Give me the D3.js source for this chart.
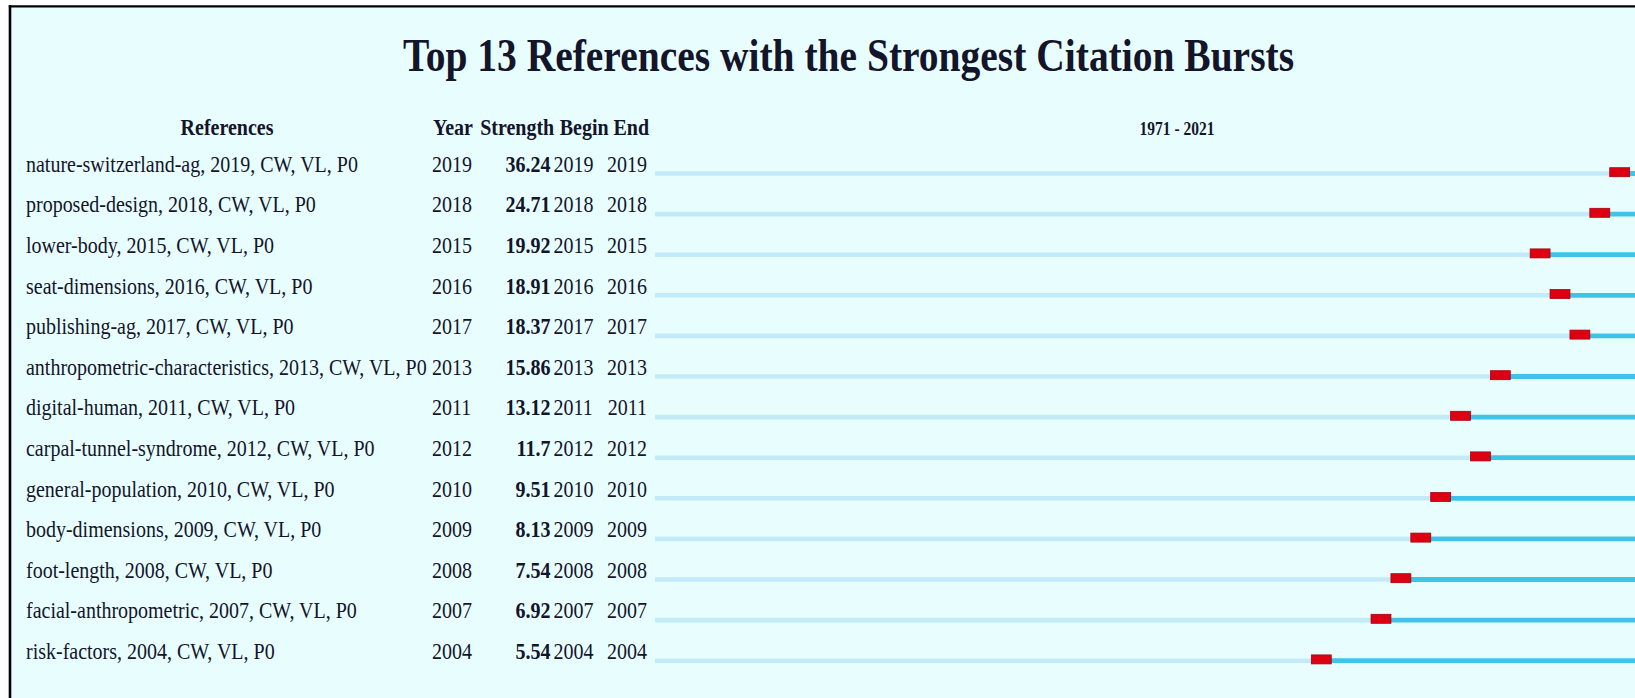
<!DOCTYPE html>
<html>
<head>
<meta charset="utf-8">
<script src="https://cdn.jsdelivr.net/npm/d3@7"></script>
<style>
    body { margin: 0; background: #ffffff; overflow: hidden; }
    svg { display: block; }
</style>
</head>
<body>
<svg id="burst"></svg>
<script>
// data
var references = [
    "nature-switzerland-ag, 2019, CW, VL, P0",
    "proposed-design, 2018, CW, VL, P0",
    "lower-body, 2015, CW, VL, P0",
    "seat-dimensions, 2016, CW, VL, P0",
    "publishing-ag, 2017, CW, VL, P0",
    "anthropometric-characteristics, 2013, CW, VL, P0",
    "digital-human, 2011, CW, VL, P0",
    "carpal-tunnel-syndrome, 2012, CW, VL, P0",
    "general-population, 2010, CW, VL, P0",
    "body-dimensions, 2009, CW, VL, P0",
    "foot-length, 2008, CW, VL, P0",
    "facial-anthropometric, 2007, CW, VL, P0",
    "risk-factors, 2004, CW, VL, P0"
];
var years     = [2019, 2018, 2015, 2016, 2017, 2013, 2011, 2012, 2010, 2009, 2008, 2007, 2004];
var strengths = ["36.24", "24.71", "19.92", "18.91", "18.37", "15.86", "13.12", "11.7", "9.51", "8.13", "7.54", "6.92", "5.54"];
var begins    = [2019, 2018, 2015, 2016, 2017, 2013, 2011, 2012, 2010, 2009, 2008, 2007, 2004];
var ends      = [2019, 2018, 2015, 2016, 2017, 2013, 2011, 2012, 2010, 2009, 2008, 2007, 2004];
var headers   = ["Year", "Strength", "Begin", "End"];
var firstYear = 1971, lastYear = 2021;
var chartTitle = "Top 13 References with the Strongest Citation Bursts";

var width = 1635, height = 698;
var font = "'Liberation Serif', 'Times New Roman', serif";
var textColor = "#14142a";
var stretch = 1.16;   // the screenshot text is a bit taller than wide

var svg = d3.select("#burst")
    .attr("width", width)
    .attr("height", height);

// panel, open to the right and bottom (only top + left edges show)
svg.append("rect")
    .attr("x", 10)
    .attr("y", 6.3)
    .attr("width", width - 10)
    .attr("height", height - 6.3)
    .style("fill", "#e8fefe");
svg.append("line")
    .attr("x1", 8.8).attr("x2", width)
    .attr("y1", 6.3).attr("y2", 6.3)
    .style("stroke", "#000").style("stroke-width", 2.2);
svg.append("line")
    .attr("x1", 10).attr("x2", 10)
    .attr("y1", 5.2).attr("y2", height)
    .style("stroke", "#000").style("stroke-width", 2.6);

function label(g, x, y, txt, size, bold, anchor) {
    return g.append("text")
        .attr("transform", "translate(" + x + "," + y + ") scale(1," + stretch + ")")
        .style("font-family", font)
        .style("font-size", size + "px")
        .style("font-weight", bold ? "bold" : "normal")
        .style("text-anchor", anchor || "start")
        .style("fill", textColor)
        .text(txt);
}

// scales
var x = d3.scaleLinear()
    .domain([firstYear, lastYear + 1])
    .range([655, 1669.4]);

var rows = d3.range(references.length);
var y = d3.scalePoint()
    .domain(rows)
    .range([171.7, 171.7 + 40.6 * (references.length - 1)]);

// title + header
label(svg, 848.5, 71, chartTitle, 39.5, true, "middle");
label(svg, 227, 135, "References", 20, true, "middle");
var headerX = [433, 480.2, 559.7, 613.5];
headers.forEach(function (h, i) {
    label(svg, headerX[i], 135, h, 20, true);
});
label(svg, 1177, 135, firstYear + " - " + lastYear, 15.5, true, "middle");

// table rows
var tbl = svg.append("g");
rows.forEach(function (i) {
    var yy = y(i);
    label(tbl, 26, yy, references[i], 20, false);
    label(tbl, 432, yy, years[i], 20, false);
    label(tbl, 550.5, yy, strengths[i], 20, true, "end");
    label(tbl, 553.5, yy, begins[i], 20, false);
    label(tbl, 647, yy, ends[i], 20, false, "end");
});

// timeline bars
var bars = svg.append("g");
rows.forEach(function (i) {
    var yy = y(i);
    // before publication
    bars.append("line")
        .attr("x1", x(firstYear)).attr("x2", x(years[i]))
        .attr("y1", yy + 1.8).attr("y2", yy + 1.8)
        .style("stroke", "#c3eaf9")
        .style("stroke-width", 4.6);
    // after publication
    bars.append("line")
        .attr("x1", x(years[i])).attr("x2", x(lastYear + 1))
        .attr("y1", yy + 1.8).attr("y2", yy + 1.8)
        .style("stroke", "#3fc3e8")
        .style("stroke-width", 4.8);
    // burst
    bars.append("rect")
        .attr("x", x(begins[i]))
        .attr("y", yy - 4)
        .attr("width", x(ends[i] + 1) - x(begins[i]))
        .attr("height", 9)
        .style("fill", "#dc0012")
        .style("stroke", "#a8000e")
        .style("stroke-width", 0.8);
});
</script>
</body>
</html>
